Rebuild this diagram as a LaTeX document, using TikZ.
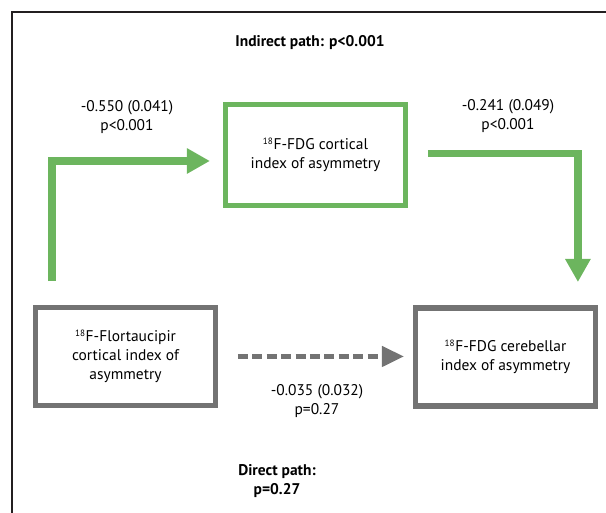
\documentclass[tikz,border=0pt]{standalone}
\usepackage{fontspec}
\setmainfont{PT Sans}
\usetikzlibrary{arrows.meta, positioning, calc}
\definecolor{verde}{RGB}{108,181,94}
\definecolor{grigio}{RGB}{115,115,115}
\definecolor{nerocornice}{RGB}{35,31,32}
\newcommand{\isotopo}{\textsuperscript{\fontsize{6.5}{7}\selectfont 18}}

\begin{document}
\begin{tikzpicture}[
  font=\fontsize{11}{13.5}\selectfont,
  cornice/.style={draw=nerocornice, line width=1.4pt},
  bloccoverde/.style={draw=verde, line width=3.6pt, minimum width=4.5cm, minimum height=2.525cm, align=center, inner sep=0pt, outer sep=0pt},
  bloccogrigio/.style={draw=grigio, line width=3.6pt, minimum width=4.5cm, minimum height=2.45cm, align=center, inner sep=0pt, outer sep=0pt},
  frecciaverde/.style={draw=verde, line width=5.3pt, -{Triangle[length=5.75mm, width=6mm]}},
  frecciagrigia/.style={draw=grigio, line width=3.2pt, dash pattern=on 2.5mm off 1.1mm, -{Triangle[length=5.5mm, width=5mm]}},
  etichetta/.style={align=center, inner sep=1pt},
  titolo/.style={align=center, inner sep=1pt, font=\fontsize{11}{13.5}\selectfont\bfseries}
]

\useasboundingbox (0,0) rectangle (15.15,12.825);

% Cornice
\draw[cornice] (0.300,-0.100) -- (0.300,12.525) -- (15.300,12.525);

% Blocchi
\node[bloccoverde] (fdgcort) at (7.888,8.950) {\isotopo F-FDG cortical\\index of asymmetry};
\node[bloccogrigio] (flortau) at (3.138,3.913) {\isotopo F-Flortaucipir\\cortical index of\\asymmetry};
\node[bloccogrigio] (fdgcereb) at (12.638,3.900) {\isotopo F-FDG cerebellar\\index of asymmetry};

% Frecce
\draw[frecciaverde] ([xshift=0.41cm,yshift=0.66cm]flortau.north west) |- ([xshift=-0.39cm,yshift=-0.15cm]fdgcort.west);
\draw[frecciaverde] ([xshift=0.56cm,yshift=0.04cm]fdgcort.east) -| ([xshift=-0.44cm,yshift=0.65cm]fdgcereb.north east);
\draw[frecciagrigia] ([xshift=0.56cm]flortau.east) -- ($(flortau.east -| fdgcereb.west)+(-0.29,0)$);

% Etichette
\node[etichetta] (coeffuno) at (3.175,9.888) {-0.550 (0.041)\\p<0.001};
\node[etichetta] (coeffdue) at (12.700,9.925) {-0.241 (0.049)\\p<0.001};
\node[etichetta] (coefftre) at (7.925,2.788) {-0.035 (0.032)\\p=0.27};

\node[titolo] (indiretto) at (7.750,11.750) {Indirect path: p<0.001};
\node[titolo] (diretto) at (6.925,0.800) {Direct path:\\p=0.27};

\end{tikzpicture}
\end{document}
